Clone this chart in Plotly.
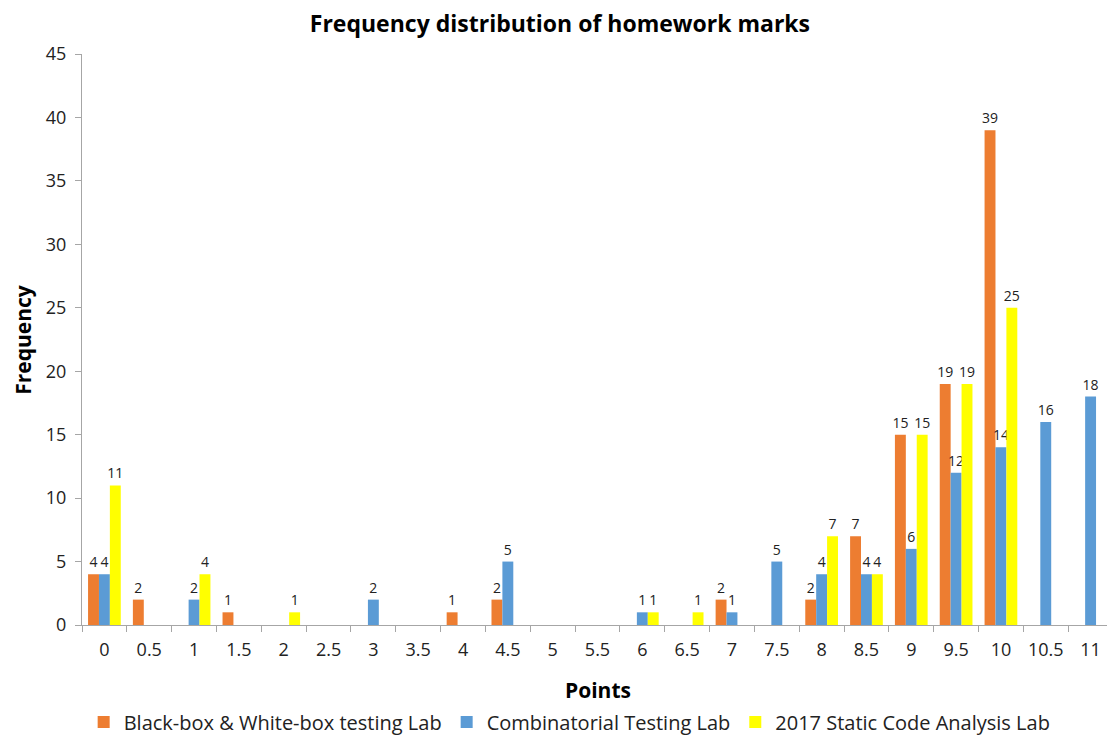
import plotly.graph_objects as go

categories = ["0", "0.5", "1", "1.5", "2", "2.5", "3", "3.5", "4", "4.5", "5", "5.5",
              "6", "6.5", "7", "7.5", "8", "8.5", "9", "9.5", "10", "10.5", "11"]
blackbox = [4, 2, None, 1, None, None, None, None, 1, 2, None, None,
            None, None, 2, None, 2, 7, 15, 19, 39, None, None]
combinatorial = [4, None, 2, None, None, None, 2, None, None, 5, None, None,
                 1, None, 1, 5, 4, 4, 6, 12, 14, 16, 18]
static2017 = [11, None, 4, None, 1, None, None, None, None, None, None, None,
              1, 1, None, None, 7, 4, 15, 19, 25, None, None]

series = [
    ("Black-box & White-box testing Lab", blackbox, "#ED7D31"),
    ("Combinatorial Testing Lab", combinatorial, "#5B9BD5"),
    ("2017 Static Code Analysis Lab", static2017, "#FFFF00"),
]

FONT = "'Open Sans', sans-serif"
fig = go.Figure()
for name, vals, color in series:
    fig.add_trace(go.Bar(
        x=categories, y=vals, name=name,
        marker=dict(color=color, line=dict(width=0)),
        text=[str(v) if v else "" for v in vals],
        textposition="outside", constraintext="none",
        textfont=dict(size=14, color="#222222", family=FONT),
        cliponaxis=False,
    ))

# plot area (in figure pixels): x 74..1105, y 46..617
fig.update_layout(
    width=1115, height=738,
    margin=dict(l=74, r=10, t=46, b=121, autoexpand=False),
    paper_bgcolor="white", plot_bgcolor="white",
    barmode="group", bargap=0.27, bargroupgap=0,
    font=dict(family=FONT, color="#222222"),
    title=dict(text="<b>Frequency distribution of homework marks</b>",
               x=0.495, xanchor="center", y=0.978, yanchor="middle",
               font=dict(size=23, color="#000000", family=FONT)),
    showlegend=True,
    legend=dict(orientation="h", x=0.473, xanchor="center", y=-0.17, yanchor="middle",
                font=dict(size=20, color="#222222", family=FONT),
                tracegroupgap=0),
)
fig.update_xaxes(
    type="category", showgrid=False, showline=True, linecolor="#A6A6A6", linewidth=1,
    ticks="outside", tickson="boundaries", ticklen=6, tickcolor="#A6A6A6",
    tickfont=dict(size=18, color="#222222"), automargin=False, ticklabelstandoff=8,
)
fig.update_yaxes(
    range=[0, 45], dtick=5, showgrid=False, zeroline=False,
    showline=True, linecolor="#A6A6A6", linewidth=1,
    ticks="outside", ticklen=6, tickcolor="#A6A6A6",
    tickfont=dict(size=18, color="#222222"), automargin=False, ticklabelstandoff=5,
)
fig.add_annotation(text="<b>Points</b>", xref="paper", yref="paper",
                   x=0.5, y=-0.114, xanchor="center", yanchor="middle",
                   showarrow=False, font=dict(size=21, color="#000000", family=FONT))
fig.add_annotation(text="<b>Frequency</b>", xref="paper", yref="paper",
                   x=-0.058, y=0.5, xanchor="center", yanchor="middle",
                   textangle=-90, showarrow=False,
                   font=dict(size=21, color="#000000", family=FONT))

fig.write_html("out.html")
